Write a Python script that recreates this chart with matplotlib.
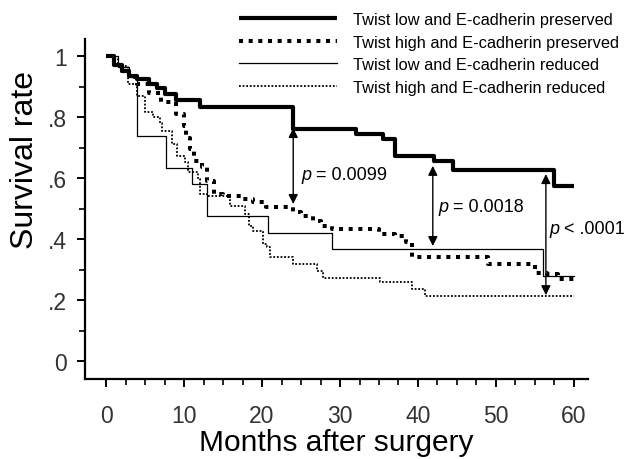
import matplotlib
matplotlib.use('Agg')
import matplotlib.pyplot as plt
from matplotlib.lines import Line2D
from matplotlib.ticker import MultipleLocator, FixedLocator

plt.rcParams['font.family'] = ['Liberation Sans', 'DejaVu Sans']

# Twist low and E-cadherin preserved
t1 = [0, 1, 2, 3, 4, 5.5, 6.5, 7.5, 9, 12, 24, 32, 35.5, 37, 42, 44.5, 57.5, 60]
s1 = [1.0, 0.97, 0.95, 0.935, 0.925, 0.91, 0.895, 0.875, 0.855, 0.833, 0.76, 0.745, 0.728, 0.672, 0.655, 0.627, 0.575, 0.575]

# Twist high and E-cadherin preserved
t2 = [0, 1, 2, 3, 4, 5.5, 7, 9, 10, 10.2, 10.8, 11.3, 12.3, 13, 13.8, 15, 17.5, 18.8, 20.5,
      24, 25, 26.5, 27.5, 29, 35, 37, 38.5, 39.2, 49, 55, 56.5, 58, 60]
s2 = [1.0, 0.97, 0.95, 0.93, 0.91, 0.88, 0.85, 0.81, 0.77, 0.73, 0.695, 0.656, 0.636, 0.59, 0.548, 0.541, 0.531, 0.52, 0.505,
      0.49, 0.475, 0.459, 0.443, 0.433, 0.416, 0.41, 0.39, 0.34, 0.318, 0.29, 0.285, 0.27, 0.27]

# Twist low and E-cadherin reduced
t3 = [0, 1.5, 3, 4, 7.7, 11, 12.9, 20.8, 29, 56, 60]
s3 = [1.0, 0.965, 0.93, 0.737, 0.632, 0.579, 0.474, 0.421, 0.368, 0.28, 0.28]

# Twist high and E-cadherin reduced
t4 = [0, 1, 1.5, 2.8, 4, 5, 6, 6.9, 7.2, 8.5, 9.1, 10.1, 10.5, 11.8, 12.1, 12.9, 15.9, 17.8, 18.3,
      18.8, 20.1, 20.6, 21, 24, 27, 27.8, 35.1, 39.2, 40.9, 60]
s4 = [1.0, 0.99, 0.967, 0.908, 0.87, 0.816, 0.80, 0.78, 0.754, 0.711, 0.672, 0.652, 0.62, 0.597, 0.548, 0.541, 0.508, 0.482, 0.443,
      0.426, 0.384, 0.374, 0.341, 0.318, 0.295, 0.272, 0.259, 0.236, 0.213, 0.213]

labels = ['Twist low and E-cadherin preserved', 'Twist high and E-cadherin preserved',
          'Twist low and E-cadherin reduced', 'Twist high and E-cadherin reduced']

# comparaciones (x, arriba, abajo, texto, x texto, y texto)
comparaciones = [
    (24.0, 0.764, 0.515, 'p = 0.0099', 25.1, 0.61),
    (41.9, 0.64, 0.377, 'p = 0.0018', 42.6, 0.508),
    (56.4, 0.613, 0.216, 'p < .0001', 56.9, 0.433),
]

estilos = [
    dict(color='black', lw=3.0, ls='-', solid_capstyle='butt'),
    dict(color='black', lw=2.9, ls=(0, (1, 1.4)), dash_capstyle='butt'),
    dict(color='black', lw=0.9, ls='-'),
    dict(color='black', lw=1.3, ls=(0, (1, 1.0)), dash_capstyle='butt'),
]

fig = plt.figure(figsize=(6.29, 4.6), dpi=100)
ax = fig.add_axes([85 / 629, 80 / 460, 503 / 629, 340 / 460])

for t, s, st in zip([t4, t3, t2, t1], [s4, s3, s2, s1], estilos[::-1]):
    ax.step(t, s, where='post', **st)

for x, top, bot, txt, tx, ty in comparaciones:
    ax.annotate('', xy=(x, top), xytext=(x, bot),
                arrowprops=dict(arrowstyle='<|-|>', color='black', lw=1.0,
                                mutation_scale=14, shrinkA=0, shrinkB=0))
    ax.text(tx, ty, txt[0], fontsize=13, style='italic', va='center', ha='left', clip_on=False)
    ax.text(tx + 1.2, ty, txt[1:], fontsize=13, va='center', ha='left', clip_on=False)

ax.set_xlim(-2.7, 61.8)
ax.set_ylim(-0.059, 1.056)
ax.spines['top'].set_visible(False)
ax.spines['right'].set_visible(False)
ax.spines['left'].set_linewidth(1.6)
ax.spines['bottom'].set_linewidth(1.6)

ax.xaxis.set_major_locator(FixedLocator([0, 10, 20, 30, 40, 50, 60]))
ax.xaxis.set_minor_locator(FixedLocator([2.5 * i for i in range(25)]))
ax.yaxis.set_major_locator(FixedLocator([0, 0.2, 0.4, 0.6, 0.8, 1.0]))
ax.yaxis.set_minor_locator(MultipleLocator(0.1))
ax.set_yticklabels(['0', '.2', '.4', '.6', '.8', '1'])
ax.tick_params(which='major', length=6, width=1.4, direction='out', labelsize=16.5,
               labelcolor='#333333')
ax.tick_params(axis='x', which='major', pad=12)
ax.tick_params(axis='y', which='major', pad=7)
ax.tick_params(which='minor', length=4, width=1.2, direction='out')

ax.set_xlabel('Months after surgery', fontsize=21.5, labelpad=1)
ax.set_ylabel('Survival rate', fontsize=23)
ax.yaxis.set_label_coords(-0.09, 0.647)

handles = [Line2D([], [], **st) for st in estilos]
fig.legend(handles, labels, loc='upper left', bbox_to_anchor=(239 / 629, 1 - 13 / 460),
           frameon=False, fontsize=11.8, handlelength=6.0, handletextpad=0.95,
           labelspacing=0.46, borderpad=0, borderaxespad=0)

fig.savefig('out.png', dpi=100)
